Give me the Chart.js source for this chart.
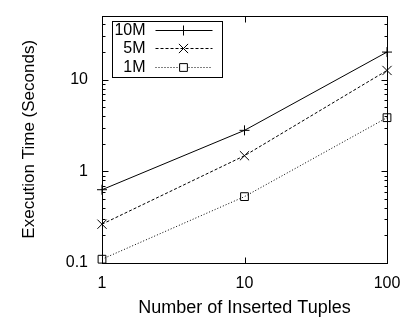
<!DOCTYPE html>
<html>
<head>
<meta charset="utf-8">
<script src="https://cdn.jsdelivr.net/npm/chart.js@4/dist/chart.umd.min.js"></script>
<style>
body { margin: 0; background: #fff; }
canvas { display: block; }
</style>
</head>
<body>
<canvas id="chart" width="419" height="325"></canvas>
<script>
var xValues = [1, 10, 100];
var series10M = [0.63, 2.8, 20];
var series5M = [0.265, 1.48, 12.6];
var series1M = [0.11, 0.53, 3.85];
var seriesNames = ['10M', '5M', '1M'];
var xTicks = [1, 10, 100];
var yTicks = [0.1, 1, 10];
var yMin = 0.1, yMax = 50;

var fontFamily = '"Liberation Sans", Arial, Helvetica, sans-serif';

function points(ys) {
  return xValues.map(function(x, i){ return {x: x, y: ys[i]}; });
}

// frame + inward ticks, like gnuplot
var framePlugin = {
  id: 'frame',
  afterDatasetsDraw: function(chart) {
    var ctx = chart.ctx, a = chart.chartArea;
    var xs = chart.scales.x, ys = chart.scales.y;
    var l = Math.round(a.left) + 0.5, r = Math.round(a.right) + 0.5;
    var t = Math.round(a.top) + 0.5, b = Math.round(a.bottom) + 0.5;
    ctx.save();
    ctx.strokeStyle = '#000';
    ctx.lineWidth = 1;
    ctx.setLineDash([]);
    ctx.strokeRect(l, t, r - l, b - t);
    ctx.beginPath();
    xTicks.forEach(function(v){
      var px = Math.round(xs.getPixelForValue(v)) + 0.5;
      ctx.moveTo(px, b); ctx.lineTo(px, b - 6);
      ctx.moveTo(px, t); ctx.lineTo(px, t + 6);
    });
    yTicks.forEach(function(d){
      for (var k = 1; k <= 9; k++) {
        var v = d * k;
        if (v > yMax) break;
        var py = Math.round(ys.getPixelForValue(v)) + 0.5;
        var len = k === 1 ? 6 : 3;
        ctx.moveTo(l, py); ctx.lineTo(l + len, py);
        ctx.moveTo(r, py); ctx.lineTo(r - len, py);
      }
    });
    ctx.stroke();
    ctx.restore();
  }
};

// key box in the top-left corner, text on the left of the sample
var keyPlugin = {
  id: 'key',
  afterDraw: function(chart) {
    var ctx = chart.ctx, a = chart.chartArea;
    var bx = Math.round(a.left) + 10.5, by = Math.round(a.top) + 5.5;
    ctx.save();
    ctx.strokeStyle = '#000';
    ctx.lineWidth = 1;
    ctx.strokeRect(bx, by, 110, 56);
    ctx.font = '16px ' + fontFamily;
    ctx.textAlign = 'right';
    ctx.textBaseline = 'middle';
    chart.data.datasets.forEach(function(ds, i){
      var y = by + 8 + i * 18.5;
      ctx.fillStyle = '#000';
      ctx.fillText(ds.label, bx + 33, y + 1);
      ctx.beginPath();
      ctx.setLineDash(ds.borderDash || []);
      ctx.moveTo(bx + 43, Math.round(y) + 0.5);
      ctx.lineTo(bx + 100, Math.round(y) + 0.5);
      ctx.stroke();
      ctx.setLineDash([]);
      ctx.fillStyle = '#fff';
      Chart.helpers.drawPoint(ctx, {
        pointStyle: ds.pointStyle, radius: ds.pointRadius, rotation: 0, borderWidth: 1
      }, bx + 71, Math.round(y) + 0.5);
    });
    ctx.restore();
  }
};

var datasets = [
  {label: seriesNames[0], data: points(series10M), borderDash: [], pointStyle: 'cross', pointRadius: 5},
  {label: seriesNames[1], data: points(series5M), borderDash: [3, 2], pointStyle: 'crossRot', pointRadius: 6.5},
  {label: seriesNames[2], data: points(series1M), borderDash: [1, 2], pointStyle: 'rect', pointRadius: 5.5}
].map(function(ds){
  ds.borderColor = '#000';
  ds.backgroundColor = 'rgba(0,0,0,0)';
  ds.pointBorderColor = '#000';
  ds.borderWidth = 1;
  ds.pointBorderWidth = 1;
  ds.fill = false;
  ds.tension = 0;
  ds.clip = false;
  return ds;
});

new Chart(document.getElementById('chart'), {
  type: 'line',
  data: {datasets: datasets},
  plugins: [framePlugin, keyPlugin],
  options: {
    responsive: false,
    animation: false,
    events: [],
    layout: {padding: {left: 0, right: 32, top: 5, bottom: 0}},
    plugins: {legend: {display: false}, tooltip: {enabled: false}},
    scales: {
      x: {
        type: 'logarithmic',
        min: 1, max: 100,
        afterBuildTicks: function(s){ s.ticks = xTicks.map(function(v){ return {value: v}; }); },
        afterFit: function(s){ s.height = 62; },
        grid: {display: false},
        border: {display: false},
        ticks: {
          color: '#000', padding: 3, maxRotation: 0,
          font: {family: fontFamily, size: 16},
          callback: function(v){ return String(v); }
        },
        title: {
          display: true, text: 'Number of Inserted Tuples', color: '#000',
          font: {family: fontFamily, size: 18}, padding: {top: 0, bottom: 6}
        }
      },
      y: {
        type: 'logarithmic',
        min: yMin, max: yMax,
        afterBuildTicks: function(s){ s.ticks = yTicks.map(function(v){ return {value: v}; }); },
        afterFit: function(s){ s.width = 102; },
        grid: {display: false},
        border: {display: false},
        ticks: {
          color: '#000', padding: 6,
          font: {family: fontFamily, size: 16},
          callback: function(v){ return String(v); }
        },
        title: {
          display: true, text: 'Execution Time (Seconds)', color: '#000',
          font: {family: fontFamily, size: 17}, padding: {top: 19, bottom: 0}
        }
      }
    }
  }
});
</script>
</body>
</html>
